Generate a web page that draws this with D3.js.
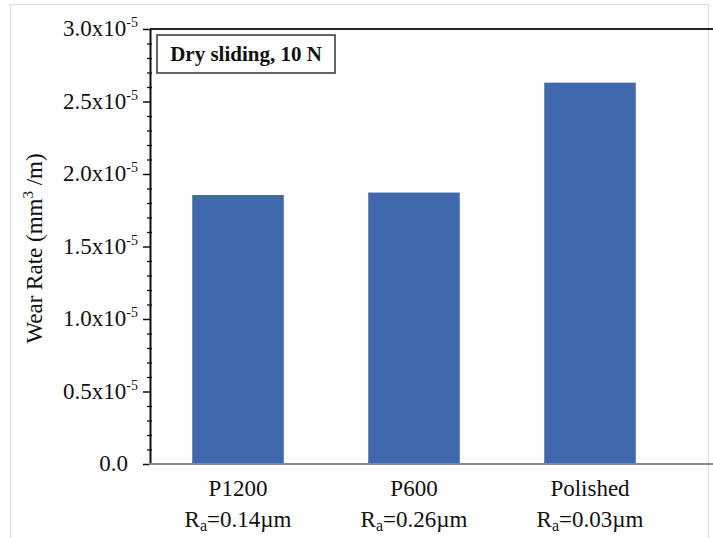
<!DOCTYPE html>
<html lang="en">
<head>
<meta charset="UTF-8">
<title>Wear rate</title>
<script src="https://d3js.org/d3.v7.min.js"></script>
<style>
  body { margin: 0; background: #fff; }
  svg text { font-family: 'Liberation Serif', 'DejaVu Serif', serif; fill: #111; }
</style>
</head>
<body>
<script>
// data
const categories = ["P1200", "P600", "Polished"];
const roughness = ["0.14", "0.26", "0.03"];
const wearRate = [1.855e-5, 1.872e-5, 2.63e-5];
const yTicks = [0, 0.5e-5, 1.0e-5, 1.5e-5, 2.0e-5, 2.5e-5, 3.0e-5];
const yTickLabels = ["0.0", "0.5x10", "1.0x10", "1.5x10", "2.0x10", "2.5x10", "3.0x10"];
const legendText = "Dry sliding, 10 N";

const w = 713, h = 538;
const plotL = 150, plotR = 678, plotT = 29, plotB = 464;
const serif = "'Liberation Serif', 'DejaVu Serif', serif";

const svg = d3.select("body").append("svg")
  .attr("width", w).attr("height", h)
  .attr("font-family", serif);

// faint outer frame
svg.append("rect")
  .attr("x", 10.5).attr("y", 4.5)
  .attr("width", 698).attr("height", 560)
  .attr("fill", "none").attr("stroke", "#dcdcdc");

const x = d3.scaleBand()
  .domain(categories)
  .range([plotL, plotR])
  .paddingInner(0.48)
  .paddingOuter(0.24);

const y = d3.scaleLinear()
  .domain([0, 3.0e-5])
  .range([plotB, plotT]);

// bars
svg.selectAll("rect.bar")
  .data(categories)
  .enter()
  .append("rect")
  .attr("class", "bar")
  .attr("x", d => x(d))
  .attr("width", x.bandwidth())
  .attr("y", (d, i) => y(wearRate[i]))
  .attr("height", (d, i) => plotB - y(wearRate[i]))
  .attr("fill", "#4068ad");

// top frame line
svg.append("line")
  .attr("x1", plotL).attr("x2", w).attr("y1", plotT).attr("y2", plotT)
  .attr("stroke", "#222").attr("stroke-width", 2);

// minor ticks (cross the axis)
const minor = d3.range(0, 31).map(v => v * 1e-6).filter((v, i) => i % 5 !== 0);
svg.append("g")
  .attr("transform", `translate(${plotL + 2},0)`)
  .call(d3.axisLeft(y).tickValues(minor).tickSize(5).tickFormat(""))
  .call(g => g.select(".domain").remove())
  .selectAll("line").attr("stroke", "#111").attr("stroke-width", 1.3);

// y axis with major ticks
const yAxis = svg.append("g")
  .attr("transform", `translate(${plotL},0)`)
  .call(d3.axisLeft(y).tickValues(yTicks).tickSize(7).tickSizeOuter(0).tickFormat(""));
yAxis.select(".domain").attr("stroke", "#111").attr("stroke-width", 2);
yAxis.selectAll(".tick line").attr("stroke", "#111").attr("stroke-width", 1.5);

// tick labels with superscript
const lab = svg.append("g");
yTicks.forEach((v, i) => {
  const t = lab.append("text")
    .attr("x", v === 0 ? 128 : 138)
    .attr("y", y(v) + 7)
    .attr("text-anchor", "end")
    .attr("font-family", serif)
    .attr("font-size", 23)
    .text(yTickLabels[i]);
  if (v !== 0) {
    t.append("tspan").attr("dy", -9).attr("font-size", 14).text("-5");
  }
});

// baseline
svg.append("line")
  .attr("x1", plotL - 1).attr("x2", w).attr("y1", plotB).attr("y2", plotB)
  .attr("stroke", "#8a8a8a").attr("stroke-width", 2);

// x labels
categories.forEach((c, i) => {
  const cx = x(c) + x.bandwidth() / 2;
  svg.append("text")
    .attr("x", cx).attr("y", 496)
    .attr("text-anchor", "middle")
    .attr("font-family", serif)
    .attr("font-size", 23)
    .text(c);
  const t = svg.append("text")
    .attr("x", cx).attr("y", 527)
    .attr("text-anchor", "middle")
    .attr("font-family", serif)
    .attr("font-size", 23);
  t.append("tspan").text("R");
  t.append("tspan").attr("dy", 4).attr("font-size", 16).text("a");
  t.append("tspan").attr("dy", -4).text("=" + roughness[i] + "\u00b5m");
});

// y axis title
const yt = svg.append("text")
  .attr("transform", `translate(42,${(plotT + plotB) / 2 + 2}) rotate(-90)`)
  .attr("text-anchor", "middle")
  .attr("font-family", serif)
  .attr("font-size", 23);
yt.append("tspan").text("Wear Rate (mm");
yt.append("tspan").attr("dy", -9).attr("font-size", 15).text("3");
yt.append("tspan").attr("dy", 9).text(" /m)");

// legend box
svg.append("rect")
  .attr("x", 157).attr("y", 35)
  .attr("width", 178).attr("height", 38)
  .attr("fill", "#fff").attr("stroke", "#333").attr("stroke-width", 1.5);
svg.append("text")
  .attr("x", 246).attr("y", 61)
  .attr("text-anchor", "middle")
  .attr("font-family", serif)
  .attr("font-size", 21)
  .attr("font-weight", "bold")
  .text(legendText);
</script>
</body>
</html>
